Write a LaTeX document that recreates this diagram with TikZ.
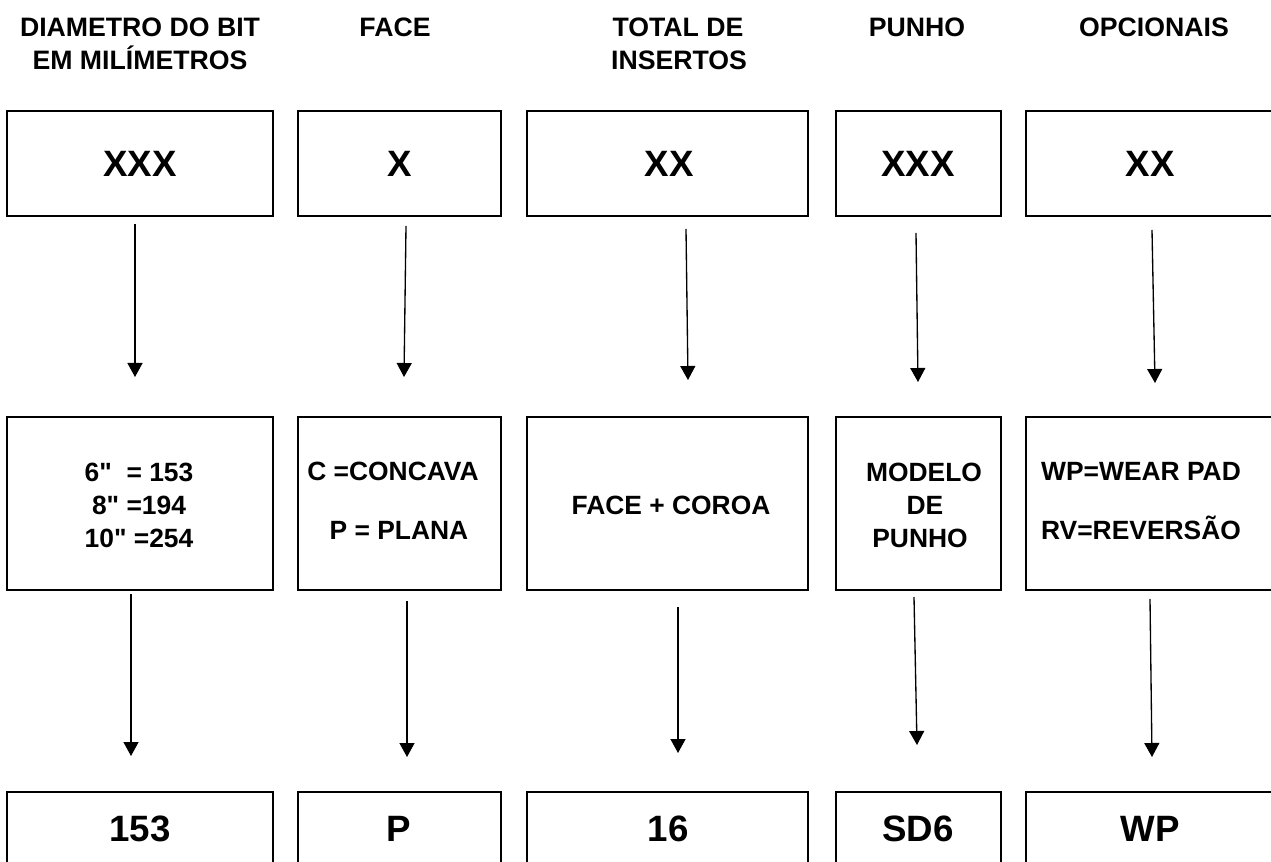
\documentclass[tikz,border=0pt]{standalone}
\usepackage{fontspec}
\setmainfont{Liberation Sans}[Ligatures=TeXOff]
\usetikzlibrary{arrows.meta,fit}
\begin{document}
\begin{tikzpicture}[x=0.75pt,y=-0.75pt,
  box/.style={draw=black,line width=2pt,inner sep=0pt,fill=none},
  hdr/.style={anchor=base,inner sep=0pt,font=\fontsize{20pt}{24pt}\selectfont\bfseries},
  mid/.style={anchor=base,inner sep=0pt,font=\fontsize{19.8pt}{24pt}\selectfont\bfseries},
  big/.style={anchor=base,inner sep=0pt,font=\fontsize{27.5pt}{32pt}\selectfont\bfseries},
  arr/.style={line width=1pt,-{Triangle[width=11.25pt,length=10.5pt]}}]
\useasboundingbox (0,0) rectangle (1271,862);
\clip (0,0) rectangle (1271,862);
\fill[white] (0,0) rectangle (1271,862);

% headers
\node[hdr] (h1a) at (140,37) {DIAMETRO DO BIT};
\node[hdr] (h1b) at (140,70) {EM MILÍMETROS};
\node[hdr] (h2) at (395,37) {FACE};
\node[hdr] (h3a) at (678,37) {TOTAL DE};
\node[hdr] (h3b) at (679,70) {INSERTOS};
\node[hdr] (h4) at (917,37) {PUNHO};
\node[hdr] (h5) at (1154,37) {OPCIONAIS};

% top row
\node[box,fit={(7,111) (273,216)}] (t1) {};
\node[box,fit={(298,111) (501,216)}] (t2) {};
\node[box,fit={(527,111) (808,216)}] (t3) {};
\node[box,fit={(836,111) (1001,216)}] (t4) {};
\node[box,fit={(1026,111) (1280,216)}] (t5) {};
\node[big] (t1x) at (140,177) {XXX};
\node[big] (t2x) at (400,177) {X};
\node[big] (t3x) at (669,177) {XX};
\node[big] (t4x) at (918,177) {XXX};
\node[big] (t5x) at (1150,177) {XX};

% middle row
\node[box,fit={(7,417) (273,590)}] (m1) {};
\node[box,fit={(298,417) (501,590)}] (m2) {};
\node[box,fit={(527,417) (808,590)}] (m3) {};
\node[box,fit={(836,417) (1001,590)}] (m4) {};
\node[box,fit={(1026,417) (1280,590)}] (m5) {};
\node[mid] (m1a) at (139,482) {6"\ \ = 153};
\node[mid] (m1b) at (139,515) {8" =194};
\node[mid] (m1c) at (139,547) {10" =254};
\node[mid] (m2a) at (393,481) {C =CONCAVA};
\node[mid] (m2b) at (399,540) {P = PLANA};
\node[mid] (m3a) at (671,515) {FACE + COROA};
\node[mid] (m4a) at (924,482) {MODELO};
\node[mid] (m4b) at (925,515) {DE};
\node[mid] (m4c) at (920,547) {PUNHO};
\node[mid] (m5a) at (1141,481) {WP=WEAR PAD};
\node[mid] (m5b) at (1141,540) {RV=REVERSÃO};

% bottom row
\node[box,fit={(7,792) (273,900)}] (b1) {};
\node[box,fit={(298,792) (501,900)}] (b2) {};
\node[box,fit={(527,792) (808,900)}] (b3) {};
\node[box,fit={(836,792) (1001,900)}] (b4) {};
\node[box,fit={(1026,792) (1280,900)}] (b5) {};
\node[big] (b1x) at (140,841) {153};
\node[big] (b2x) at (399,841) {P};
\node[big] (b3x) at (668,841) {16};
\node[big] (b4x) at (918,841) {SD6};
\node[big] (b5x) at (1150,841) {WP};

% arrows top -> middle
\coordinate (a1s) at (135,224); \coordinate (a1e) at (135,377);
\coordinate (a2s) at (406,226); \coordinate (a2e) at (404,377);
\coordinate (a3s) at (686,229); \coordinate (a3e) at (688,380);
\coordinate (a4s) at (916,233); \coordinate (a4e) at (918,382);
\coordinate (a5s) at (1152,230); \coordinate (a5e) at (1155,383);
\draw[arr] (a1s) -- (a1e);
\draw[arr] (a2s) -- (a2e);
\draw[arr] (a3s) -- (a3e);
\draw[arr] (a4s) -- (a4e);
\draw[arr] (a5s) -- (a5e);

% arrows middle -> bottom
\coordinate (c1s) at (131,594); \coordinate (c1e) at (131,756);
\coordinate (c2s) at (407,601); \coordinate (c2e) at (407,757);
\coordinate (c3s) at (678,607); \coordinate (c3e) at (678,753);
\coordinate (c4s) at (914,597); \coordinate (c4e) at (917,745);
\coordinate (c5s) at (1150,599); \coordinate (c5e) at (1152,757);
\draw[arr] (c1s) -- (c1e);
\draw[arr] (c2s) -- (c2e);
\draw[arr] (c3s) -- (c3e);
\draw[arr] (c4s) -- (c4e);
\draw[arr] (c5s) -- (c5e);
\end{tikzpicture}
\end{document}
